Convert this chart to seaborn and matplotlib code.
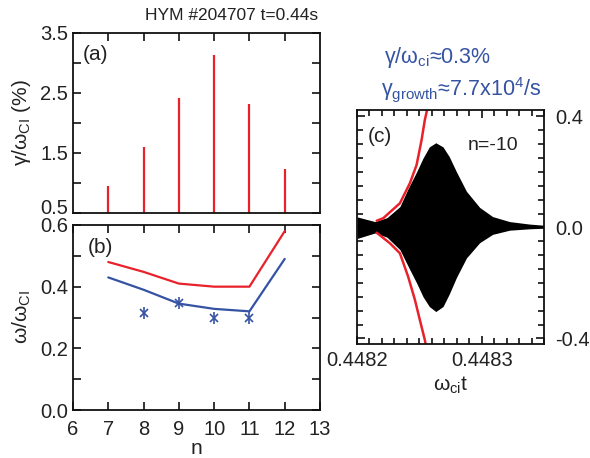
import numpy as np
import pandas as pd
import matplotlib
matplotlib.use('Agg')
import matplotlib.pyplot as plt
import matplotlib.transforms as mtransforms
import seaborn as sns
from matplotlib.ticker import MultipleLocator, FixedLocator, FormatStrFormatter

sns.set_style('ticks')
plt.rcParams['font.family'] = ['Liberation Sans', 'DejaVu Sans']
plt.rcParams['mathtext.fontset'] = 'custom'
plt.rcParams['mathtext.rm'] = 'Liberation Sans'

RED = '#e8212b'
BLUE = '#3553a3'
TXT = '#222222'

# panel (a): growth rate per toroidal mode number
n_modes = [7, 8, 9, 10, 11, 12]
gamma_pct = [0.95, 1.6, 2.42, 3.13, 2.32, 1.23]

# panel (b): frequencies
omega_red = [0.48, 0.448, 0.41, 0.40, 0.40, 0.58]
omega_blue = [0.43, 0.39, 0.345, 0.328, 0.32, 0.49]
n_star = [8, 9, 10, 11]
omega_star = [0.315, 0.348, 0.30, 0.30]

# panel (c): envelope of the n=-10 signal
t_env = [0.4482000, 0.4482144, 0.4482240, 0.4482344, 0.4482410, 0.4482478,
         0.4482530, 0.4482580, 0.4482632, 0.4482690, 0.4482740, 0.4482798,
         0.4482878, 0.4482984, 0.4483088, 0.4483224, 0.4483384, 0.4483496]
env_top = [0.038, 0.021, 0.035, 0.075, 0.14, 0.2, 0.25, 0.29, 0.305, 0.29,
           0.255, 0.2, 0.13, 0.072, 0.039, 0.021, 0.012, 0.008]
env_bot = [-0.04, -0.02, -0.035, -0.08, -0.14, -0.2, -0.25, -0.285, -0.303,
           -0.285, -0.24, -0.18, -0.11, -0.055, -0.025, -0.01, -0.005, -0.003]

# exponential fit curves
t_fit_up = [0.4482158, 0.4482210, 0.4482344, 0.4482424, 0.4482478,
            0.4482518, 0.4482544, 0.4482562]
fit_up = [0.024, 0.033, 0.087, 0.159, 0.225, 0.315, 0.387, 0.423]
t_fit_dn = [0.4482158, 0.4482264, 0.4482344, 0.4482410, 0.4482464,
            0.4482504, 0.4482544, 0.4482558]
fit_dn = [-0.019, -0.057, -0.093, -0.177, -0.26, -0.333, -0.405, -0.44]

W, H = 590, 458
fig = plt.figure(figsize=(W / 100, H / 100), dpi=100)


def box(l, t, r, b):
    return [l / W, 1 - b / H, (r - l) / W, (b - t) / H]


ax_a = fig.add_axes(box(73, 33, 320, 213))
ax_b = fig.add_axes(box(73, 225, 320, 410))
ax_c = fig.add_axes(box(357, 110, 544, 344))

for ax in (ax_a, ax_b, ax_c):
    for s in ax.spines.values():
        s.set_linewidth(1.3)
        s.set_color('#111111')
    ax.tick_params(which='both', direction='in', top=True, right=True,
                   length=6, width=1.2, labelsize=14.5, colors='#111111',
                   labelcolor=TXT)

# (a)
ax_a.vlines(n_modes, 0.5, gamma_pct, color=RED, lw=1.6)
ax_a.set_xlim(6, 13)
ax_a.set_ylim(0.5, 3.5)
ax_a.xaxis.set_major_locator(FixedLocator(n_modes))
ax_a.set_xticklabels([])
ax_a.yaxis.set_major_locator(FixedLocator([0.5, 1.5, 2.5, 3.5]))
ax_a.yaxis.set_minor_locator(FixedLocator([1.0, 2.0, 3.0]))
ax_a.yaxis.set_major_formatter(FormatStrFormatter('%.1f'))
ax_a.set_ylabel('γ/ω$_\\mathregular{CI}$ (%)', fontsize=15, color=TXT, labelpad=5)
ax_a.text(0.04, 0.878, '(a)', transform=ax_a.transAxes, fontsize=15,
          color=TXT, va='center')

# (b)
dfb = pd.DataFrame({'n': n_modes, 'red': omega_red, 'blue': omega_blue})
sns.lineplot(data=dfb, x='n', y='red', color=RED, lw=1.6, ax=ax_b)
sns.lineplot(data=dfb, x='n', y='blue', color=BLUE, lw=1.6, ax=ax_b)
ax_b.plot(n_star, omega_star, ls='none', marker='x', ms=6, mew=1.2, color=BLUE)
ax_b.plot(n_star, omega_star, ls='none', marker='|', ms=8, mew=1.2, color=BLUE)
ax_b.set_xlim(6, 13)
ax_b.set_ylim(0, 0.6)
ax_b.set_xticks(range(6, 14))
ax_b.yaxis.set_major_locator(MultipleLocator(0.2))
ax_b.yaxis.set_minor_locator(MultipleLocator(0.1))
ax_b.yaxis.set_major_formatter(FormatStrFormatter('%.1f'))
ax_b.tick_params(axis='x', pad=7)
ax_b.set_xlabel('n', fontsize=15, color=TXT, labelpad=0)
ax_b.set_ylabel('ω/ω$_\\mathregular{CI}$', fontsize=15, color=TXT, labelpad=5)
ax_b.text(0.06, 0.876, '(b)', transform=ax_b.transAxes, fontsize=15,
          color=TXT, va='center')

# (c)
ax_c.fill_between(t_env, env_bot, env_top, color='black', lw=0)
ax_c.plot(t_fit_up, fit_up, color=RED, lw=1.8)
ax_c.plot(t_fit_dn, fit_dn, color=RED, lw=1.8)
ax_c.set_xlim(0.4482, 0.44835)
ax_c.set_ylim(-0.42, 0.423)
ax_c.xaxis.set_major_locator(FixedLocator([0.4482, 0.4483]))
ax_c.xaxis.set_minor_locator(MultipleLocator(0.00001))
ax_c.xaxis.set_major_formatter(FormatStrFormatter('%.4f'))
ax_c.yaxis.set_major_locator(FixedLocator([-0.4, 0.0, 0.4]))
ax_c.yaxis.set_minor_locator(MultipleLocator(0.05))
ax_c.yaxis.set_major_formatter(FormatStrFormatter('%.1f'))
ax_c.tick_params(which='minor', length=4)
ax_c.tick_params(axis='y', labelleft=False, labelright=True, pad=8)
ax_c.tick_params(axis='x', pad=5)
ax_c.set_xlabel('ω$_\\mathregular{ci}$t', fontsize=15, color=TXT, labelpad=3)
ax_c.text(0.06, 0.885, '(c)', transform=ax_c.transAxes, fontsize=15,
          color=TXT, va='center')
ax_c.text(0.59, 0.85, 'n=-10', transform=ax_c.transAxes, fontsize=14,
          color=TXT, va='center')

fig.text(318 / W, 1 - 15 / H, 'HYM #204707 t=0.44s', ha='right', va='center',
         fontsize=12.5, color=TXT)
fig.text(384 / W, 1 - 58 / H, 'γ/ω$_\\mathregular{ci}$≈0.3%', ha='left',
         va='center', fontsize=15.5, color=BLUE)
fig.text(381 / W, 1 - 90 / H, 'γ$_\\mathregular{growth}$≈7.7x10$^\\mathregular{4}$/s',
         ha='left', va='center', fontsize=15.5, color=BLUE)

# nudge the crowded 0.5 / 0.6 labels apart as in the original
fig.canvas.draw()
lab_a = ax_a.yaxis.get_majorticklabels()[0]
lab_a.set_transform(lab_a.get_transform()
                    + mtransforms.ScaledTranslation(0, 6 / 100, fig.dpi_scale_trans))
lab_b = ax_b.yaxis.get_majorticklabels()[-1]
lab_b.set_transform(lab_b.get_transform()
                    + mtransforms.ScaledTranslation(0, -5 / 100, fig.dpi_scale_trans))

fig.savefig('out.png', dpi=100)
